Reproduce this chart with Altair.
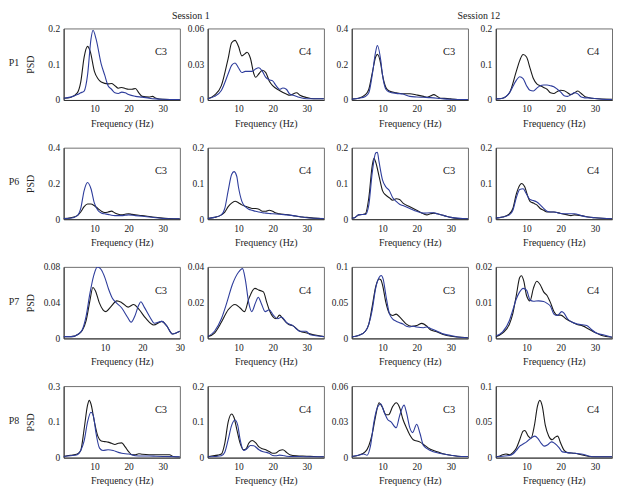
import altair as alt
import pandas as pd

ROWS = ["P1", "P6", "P7", "P8"]
CHANNELS = ["C3", "C4", "C3", "C4"]
SESSION_TITLES = ["Session 1", "Session 12"]
SESSION_COLS = [0, 2]
X_TICKS = [10, 20, 30]
X_TITLE = "Frequency (Hz)"
Y_TITLE = "PSD"

Y_MAX = [[0.2, 0.06, 0.4, 0.2],
         [0.4, 0.2, 0.2, 0.2],
         [0.08, 0.04, 0.1, 0.02],
         [0.3, 0.2, 0.06, 0.1]]
Y_MID = [[0.1, 0.03, 0.2, 0.1],
         [0.2, 0.1, 0.1, 0.1],
         [0.04, 0.02, 0.05, 0.01],
         [0.15, 0.1, 0.03, 0.05]]
X_DOMAIN_DEFAULT = [1, 35]
X_DOMAIN_SPECIAL = {(2, 0): [-1, 30]}

# ---- P1 ----
p1_s1_c3_black = [(1,0.005),(3,0.007),(5,0.02),(6,0.05),(7,0.12),(8,0.15),(8.8,0.135),(10,0.08),(11,0.06),(12,0.05),(14,0.045),(15,0.046),(16,0.04),(17,0.033),(18,0.035),(19,0.032),(20,0.03),(21,0.03),(22,0.032),(23,0.02),(24,0.01),(26,0.008),(27,0.01),(28,0.005),(30,0.002),(35,0.001)]
p1_s1_c3_blue = [(1,0.005),(3,0.008),(5,0.015),(6,0.02),(7,0.025),(8,0.07),(9,0.17),(9.6,0.195),(10.5,0.17),(12,0.1),(13,0.07),(14,0.04),(15,0.03),(16,0.02),(17,0.018),(18,0.022),(19,0.02),(20,0.015),(22,0.01),(24,0.008),(26,0.005),(28,0.003),(30,0.002),(35,0.001)]
p1_s1_c4_black = [(1,0.001),(3,0.004),(5,0.012),(7,0.035),(8,0.048),(9,0.05),(10,0.045),(11,0.037),(12,0.039),(12.5,0.04),(13.5,0.035),(14.5,0.022),(15,0.019),(16,0.022),(17,0.025),(18,0.023),(19,0.016),(20,0.012),(22,0.008),(24,0.005),(25,0.004),(27,0.006),(28,0.004),(30,0.002),(32,0.001),(35,0.001)]
p1_s1_c4_blue = [(1,0.001),(3,0.003),(5,0.008),(7,0.022),(8,0.029),(9,0.031),(10,0.027),(11,0.023),(12,0.024),(13,0.024),(14,0.024),(15,0.026),(16,0.027),(17,0.024),(18,0.019),(19,0.017),(20,0.016),(21,0.012),(22,0.009),(23,0.01),(24,0.009),(25,0.005),(26,0.004),(28,0.002),(30,0.001),(35,0.001)]
p1_s12_c3_black = [(1,0.005),(3,0.01),(5,0.03),(6,0.06),(7,0.15),(8,0.24),(8.5,0.255),(9.5,0.2),(10,0.14),(11,0.07),(12,0.05),(14,0.04),(16,0.035),(18,0.035),(20,0.028),(22,0.02),(23,0.015),(24,0.022),(25,0.03),(26,0.02),(27,0.01),(29,0.008),(30,0.006),(32,0.003),(35,0.002)]
p1_s12_c3_blue = [(1,0.005),(3,0.01),(5,0.02),(6,0.04),(7,0.14),(8,0.27),(8.5,0.305),(9.5,0.22),(10,0.14),(11,0.06),(12,0.045),(14,0.037),(16,0.033),(18,0.02),(20,0.017),(22,0.015),(24,0.013),(26,0.01),(28,0.006),(30,0.004),(35,0.002)]
p1_s12_c4_black = [(1,0.003),(3,0.005),(5,0.02),(7,0.08),(8,0.11),(9,0.127),(10,0.12),(11,0.09),(12,0.06),(13,0.045),(14,0.04),(15,0.035),(16,0.03),(17,0.02),(18,0.018),(19,0.024),(20,0.027),(21,0.026),(22,0.02),(23,0.015),(24,0.02),(25,0.025),(26,0.018),(27,0.01),(28,0.007),(30,0.004),(35,0.002)]
p1_s12_c4_blue = [(1,0.003),(3,0.005),(5,0.02),(7,0.055),(8,0.065),(9,0.06),(10,0.04),(11,0.027),(12,0.025),(13,0.033),(14,0.04),(15,0.042),(16,0.042),(17,0.04),(18,0.037),(19,0.03),(20,0.022),(21,0.012),(22,0.01),(23,0.015),(24,0.02),(25,0.017),(26,0.008),(27,0.006),(28,0.006),(30,0.004),(32,0.002),(35,0.001)]

# ---- P6 ----
p6_s1_c3_black = [(1,0.003),(3,0.008),(5,0.02),(6,0.04),(7,0.07),(8,0.085),(9,0.085),(10,0.075),(11,0.06),(12,0.045),(13,0.037),(14,0.04),(15,0.045),(16,0.035),(17,0.028),(18,0.025),(19,0.028),(20,0.03),(21,0.027),(23,0.022),(25,0.018),(27,0.012),(30,0.006),(32,0.004),(35,0.002)]
p6_s1_c3_blue = [(1,0.003),(3,0.005),(5,0.02),(6,0.06),(7,0.16),(8,0.205),(9,0.17),(10,0.09),(11,0.05),(12,0.035),(13,0.03),(14,0.027),(15,0.022),(16,0.02),(18,0.02),(19,0.022),(20,0.024),(22,0.02),(24,0.016),(26,0.012),(28,0.008),(30,0.004),(35,0.002)]
p6_s1_c4_black = [(1,0.002),(3,0.005),(5,0.012),(6,0.02),(7,0.035),(8,0.045),(9,0.05),(10,0.046),(11,0.04),(12,0.036),(13,0.033),(14,0.03),(15,0.03),(16,0.028),(17,0.022),(18,0.022),(19,0.025),(20,0.022),(21,0.017),(22,0.015),(24,0.013),(26,0.01),(28,0.007),(30,0.005),(32,0.003),(35,0.001)]
p6_s1_c4_blue = [(1,0.002),(3,0.005),(5,0.012),(6,0.03),(7,0.08),(8,0.125),(8.7,0.133),(9.5,0.12),(10,0.09),(11,0.05),(12,0.035),(13,0.028),(14,0.025),(15,0.022),(16,0.02),(17,0.018),(18,0.017),(19,0.016),(20,0.015),(22,0.014),(24,0.012),(26,0.01),(28,0.007),(30,0.004),(35,0.002)]
p6_s12_c3_black = [(1,0.003),(2,0.005),(3,0.012),(4,0.013),(5,0.015),(6,0.06),(7,0.15),(7.5,0.17),(8,0.16),(9,0.12),(10,0.08),(11,0.067),(12,0.06),(13,0.053),(14,0.057),(15,0.055),(16,0.045),(18,0.035),(20,0.025),(22,0.015),(23,0.012),(24,0.015),(25,0.017),(26,0.015),(28,0.01),(30,0.005),(32,0.002),(35,0.001)]
p6_s12_c3_blue = [(1,0.003),(2,0.005),(3,0.012),(4,0.013),(5,0.013),(6,0.04),(7,0.13),(8,0.185),(8.5,0.187),(9,0.16),(10,0.11),(11,0.09),(12,0.08),(13,0.06),(14,0.05),(15,0.042),(16,0.038),(18,0.03),(20,0.022),(22,0.017),(24,0.018),(25,0.018),(26,0.015),(28,0.01),(30,0.005),(35,0.001)]
p6_s12_c4_black = [(1,0.003),(3,0.006),(5,0.015),(6,0.03),(7,0.07),(8,0.095),(8.5,0.1),(9.5,0.09),(10,0.075),(11,0.05),(12,0.045),(13,0.04),(14,0.03),(15,0.025),(16,0.02),(17,0.02),(18,0.02),(20,0.016),(22,0.012),(23,0.01),(24,0.012),(26,0.01),(28,0.006),(30,0.004),(35,0.001)]
p6_s12_c4_blue = [(1,0.003),(3,0.006),(5,0.012),(6,0.025),(7,0.06),(8,0.083),(9,0.085),(10,0.07),(11,0.055),(12,0.052),(13,0.048),(14,0.04),(15,0.03),(16,0.022),(17,0.02),(18,0.02),(20,0.016),(22,0.015),(24,0.015),(26,0.01),(28,0.006),(30,0.004),(35,0.001)]

# ---- P7 ----
p7_s1_c3_black = [(-1,0.002),(1,0.002),(3,0.005),(4,0.009),(5,0.02),(6,0.042),(6.8,0.057),(7.5,0.053),(8.5,0.04),(9.5,0.032),(10.3,0.03),(11.5,0.035),(13.2,0.042),(14.5,0.04),(16.2,0.035),(17.7,0.038),(19,0.033),(21,0.022),(23,0.015),(25.2,0.019),(26.5,0.014),(28,0.005),(29,0.006),(30,0.008)]
p7_s1_c3_blue = [(-1,0.002),(1,0.002),(3,0.005),(4,0.01),(5,0.025),(6,0.05),(7,0.07),(8,0.08),(9,0.077),(10,0.068),(11,0.055),(12,0.045),(13,0.04),(14.5,0.034),(16,0.024),(17,0.018),(18,0.025),(19,0.037),(19.6,0.041),(20.5,0.035),(22,0.024),(23.2,0.017),(25.2,0.019),(26.5,0.014),(28,0.005),(29,0.006),(30,0.008)]
p7_s1_c4_black = [(1,0.001),(3,0.003),(5,0.009),(7,0.016),(9,0.019),(10.5,0.017),(11.8,0.015),(13,0.022),(14.8,0.028),(16,0.027),(17.3,0.026),(18.3,0.02),(19.2,0.015),(21,0.011),(22,0.013),(23,0.011),(24.5,0.008),(26,0.007),(28,0.004),(30,0.003),(32,0.002),(35,0.001)]
p7_s1_c4_blue = [(1,0.001),(3,0.004),(5,0.011),(6.6,0.02),(8.2,0.03),(10,0.037),(11.2,0.039),(12,0.033),(13,0.02),(13.9,0.015),(15,0.02),(15.8,0.023),(16.6,0.02),(17.8,0.015),(19,0.016),(20.2,0.013),(21.5,0.011),(22.6,0.012),(24,0.009),(26,0.007),(28,0.004),(29.8,0.004),(31,0.002),(35,0.001)]
p7_s12_c3_black = [(1,0.002),(3,0.004),(5,0.01),(6,0.02),(7,0.045),(8,0.072),(9,0.083),(9.5,0.082),(10,0.075),(11,0.05),(12,0.035),(13,0.032),(14,0.034),(15,0.03),(16,0.025),(17,0.02),(18.5,0.017),(20,0.018),(21.5,0.021),(23,0.017),(24,0.012),(26,0.009),(28,0.005),(30,0.003),(32,0.002),(35,0.001)]
p7_s12_c3_blue = [(1,0.002),(3,0.004),(5,0.01),(6,0.02),(7,0.04),(8,0.07),(9,0.085),(9.6,0.088),(10.2,0.083),(11,0.06),(12,0.035),(13,0.027),(14,0.024),(15,0.022),(16,0.02),(17,0.017),(18,0.016),(19,0.017),(20,0.016),(22,0.015),(23,0.016),(24,0.014),(26,0.01),(28,0.006),(30,0.004),(32,0.002),(35,0.001)]
p7_s12_c4_black = [(1,0.0005),(3,0.0015),(5,0.004),(6,0.007),(7,0.012),(8,0.017),(8.5,0.0175),(9.2,0.016),(10,0.012),(11,0.0105),(12,0.014),(13,0.016),(14,0.015),(15,0.013),(16,0.012),(17,0.01),(18,0.0075),(19,0.0065),(20,0.0065),(21.5,0.0055),(23.4,0.0045),(25,0.0038),(26.4,0.0035),(28.4,0.0025),(30.4,0.0015),(32,0.0008),(35,0.0003)]
p7_s12_c4_blue = [(1,0.0007),(3,0.0018),(5,0.005),(6,0.008),(7,0.011),(8,0.013),(9,0.014),(10,0.0135),(11,0.0108),(12,0.0104),(13.5,0.0105),(15,0.0103),(16,0.0098),(17,0.009),(18,0.0068),(19,0.0064),(20.3,0.0075),(21,0.007),(22,0.0055),(23.4,0.0045),(25,0.004),(26.4,0.0038),(27.6,0.0036),(29,0.0025),(30.4,0.0015),(32.4,0.001),(35,0.0003)]

# ---- P8 ----
p8_s1_c3_black = [(1,0.005),(3,0.01),(5,0.015),(6,0.03),(7,0.12),(8,0.22),(8.5,0.24),(9,0.225),(10,0.15),(11,0.09),(12,0.07),(13,0.067),(14,0.065),(15,0.06),(16,0.055),(17,0.06),(18,0.062),(19,0.045),(20,0.025),(21,0.012),(22,0.012),(23,0.016),(24,0.014),(26,0.012),(28,0.012),(30,0.012),(32,0.012),(33,0.005),(35,0.002)]
p8_s1_c3_blue = [(1,0.005),(3,0.008),(5,0.012),(6,0.03),(7,0.07),(8,0.15),(9,0.19),(9.7,0.175),(10.5,0.1),(11.5,0.04),(12.5,0.03),(14,0.033),(15.5,0.03),(17,0.022),(18,0.018),(20,0.015),(22,0.008),(24,0.007),(26,0.007),(28,0.006),(30,0.005),(32,0.004),(35,0.003)]
p8_s1_c4_black = [(1,0.002),(3,0.006),(4,0.007),(5,0.01),(6,0.04),(7,0.1),(8,0.122),(8.7,0.112),(9.5,0.08),(10.5,0.04),(11.5,0.022),(12.3,0.025),(13,0.04),(14,0.048),(15,0.042),(16,0.03),(17,0.025),(18,0.022),(19,0.017),(20,0.012),(21,0.013),(22,0.02),(23,0.022),(24,0.015),(25,0.008),(27,0.005),(30,0.004),(32,0.003),(35,0.002)]
p8_s1_c4_blue = [(1,0.002),(3,0.003),(5,0.005),(6,0.015),(7,0.05),(8,0.09),(9,0.105),(9.8,0.09),(10.5,0.05),(11.5,0.02),(12.5,0.025),(13.5,0.034),(14.5,0.033),(16,0.022),(17,0.017),(18,0.015),(19,0.012),(20,0.006),(21,0.005),(22,0.007),(23,0.006),(24,0.004),(26,0.003),(28,0.003),(30,0.002),(35,0.002)]
p8_s12_c3_black = [(1,0.001),(3,0.002),(5,0.005),(6,0.01),(7,0.02),(8,0.035),(9,0.046),(10,0.042),(11,0.036),(11.8,0.036),(13,0.043),(14,0.046),(15,0.042),(16,0.032),(17,0.025),(18,0.019),(19,0.015),(21,0.013),(22,0.011),(24,0.007),(26,0.005),(28,0.003),(30,0.002),(33,0.001),(35,0.001)]
p8_s12_c3_blue = [(1,0.001),(3,0.002),(4.5,0.003),(5.5,0.002),(6.5,0.01),(7.5,0.03),(8.5,0.042),(9.5,0.045),(10.5,0.038),(11.5,0.032),(12.5,0.03),(14,0.025),(15,0.035),(16.3,0.044),(17,0.038),(18,0.025),(18.8,0.021),(20,0.028),(21,0.02),(22,0.01),(24,0.006),(26,0.004),(28,0.003),(30,0.002),(33,0.001),(35,0.001)]
p8_s12_c4_black = [(1,0.001),(2,0.002),(3,0.004),(4,0.005),(5,0.004),(6,0.007),(7,0.013),(8,0.025),(9,0.037),(9.5,0.038),(10.5,0.03),(11.3,0.027),(12.3,0.045),(13.2,0.072),(13.9,0.08),(14.6,0.072),(15.5,0.045),(16.5,0.03),(17.5,0.025),(18.5,0.029),(19.1,0.03),(20,0.02),(21,0.01),(22,0.007),(24,0.006),(26,0.004),(28,0.002),(29,0.001),(31,0.001),(35,0.001)]
p8_s12_c4_blue = [(1,0.001),(3,0.002),(5,0.003),(6,0.005),(7,0.01),(8,0.016),(9,0.019),(10,0.022),(11,0.026),(12.4,0.03),(13.3,0.027),(14.3,0.02),(15.2,0.016),(16.2,0.018),(17.3,0.022),(18.2,0.02),(19.5,0.014),(20.5,0.008),(22,0.007),(24.3,0.006),(26,0.005),(27,0.004),(28.5,0.002),(30,0.001),(35,0.001)]

CURVES = [
    [(p1_s1_c3_black, p1_s1_c3_blue), (p1_s1_c4_black, p1_s1_c4_blue),
     (p1_s12_c3_black, p1_s12_c3_blue), (p1_s12_c4_black, p1_s12_c4_blue)],
    [(p6_s1_c3_black, p6_s1_c3_blue), (p6_s1_c4_black, p6_s1_c4_blue),
     (p6_s12_c3_black, p6_s12_c3_blue), (p6_s12_c4_black, p6_s12_c4_blue)],
    [(p7_s1_c3_black, p7_s1_c3_blue), (p7_s1_c4_black, p7_s1_c4_blue),
     (p7_s12_c3_black, p7_s12_c3_blue), (p7_s12_c4_black, p7_s12_c4_blue)],
    [(p8_s1_c3_black, p8_s1_c3_blue), (p8_s1_c4_black, p8_s1_c4_blue),
     (p8_s12_c3_black, p8_s12_c3_blue), (p8_s12_c4_black, p8_s12_c4_blue)],
]

BLACK = "#1a1a1a"
BLUE = "#2e3d9c"
FONT = "Liberation Serif, Times New Roman, serif"
TXT = "#222222"
W, H = 117, 72

AX = dict(labelFont=FONT, titleFont=FONT, labelFontSize=9.5, titleFontSize=10,
          labelFontWeight="normal", titleFontWeight="normal",
          labelColor=TXT, titleColor=TXT, grid=False, ticks=False,
          domainColor="#333333", labelPadding=4, labelFlush=False)

panels = []
for r in range(4):
    for c in range(4):
        black, blue = CURVES[r][c]
        rows = [{"f": f, "psd": v, "s": "black"} for f, v in black]
        rows += [{"f": f, "psd": v, "s": "blue"} for f, v in blue]
        df = pd.DataFrame(rows)
        xd = X_DOMAIN_SPECIAL.get((r, c), X_DOMAIN_DEFAULT)
        ymax = Y_MAX[r][c]
        if c == 0:
            yaxis = alt.Axis(values=[0, Y_MID[r][c], ymax], format="~g", title=Y_TITLE,
                             titleX=-33, titleY=H / 2, titleAngle=270,
                             titleAlign="center", titleBaseline="middle", **AX)
        else:
            yaxis = alt.Axis(values=[0, Y_MID[r][c], ymax], format="~g", title=None, **AX)
        xaxis = alt.Axis(values=X_TICKS, title=X_TITLE, titlePadding=5, **AX)
        lines = alt.Chart(df).mark_line(strokeWidth=1.1, interpolate="monotone", clip=True).encode(
            x=alt.X("f:Q", scale=alt.Scale(domain=xd, nice=False, zero=False), axis=xaxis),
            y=alt.Y("psd:Q", scale=alt.Scale(domain=[0, ymax], nice=False), axis=yaxis),
            color=alt.Color("s:N", scale=alt.Scale(domain=["blue", "black"], range=[BLUE, BLACK]),
                            legend=None),
            detail="s:N",
        )
        ch = alt.Chart(pd.DataFrame({"t": [CHANNELS[c]]})).mark_text(
            font=FONT, fontSize=10.5, fontWeight="normal", color=TXT, align="center", baseline="middle"
        ).encode(text="t:N", x=alt.value(W - 19), y=alt.value(24))
        layers = [lines, ch]
        if c == 0:
            pl = alt.Chart(pd.DataFrame({"t": [ROWS[r]]})).mark_text(
                font=FONT, fontSize=10, fontWeight="normal", color=TXT, align="center", baseline="middle"
            ).encode(text="t:N", x=alt.value(-50), y=alt.value(H / 2 - 1))
            layers.append(pl)
        if r == 0 and c in SESSION_COLS:
            st = alt.Chart(pd.DataFrame({"t": [SESSION_TITLES[SESSION_COLS.index(c)]]})).mark_text(
                font=FONT, fontSize=10, fontWeight="normal", color=TXT, align="center", baseline="middle"
            ).encode(text="t:N", x=alt.value(W + 11), y=alt.value(-13))
            layers.append(st)
        panels.append(alt.layer(*layers).properties(width=W, height=H))

chart = alt.concat(*panels, columns=4, spacing={"row": 48, "column": 28},
                   bounds="flush", align="all").properties(
    padding={"left": 0, "top": 0, "right": 0, "bottom": 0}
).configure(font=FONT).configure_view(stroke="#707070", strokeWidth=1)

chart.save("out.html", embed_options={"renderer": "svg", "actions": False})
